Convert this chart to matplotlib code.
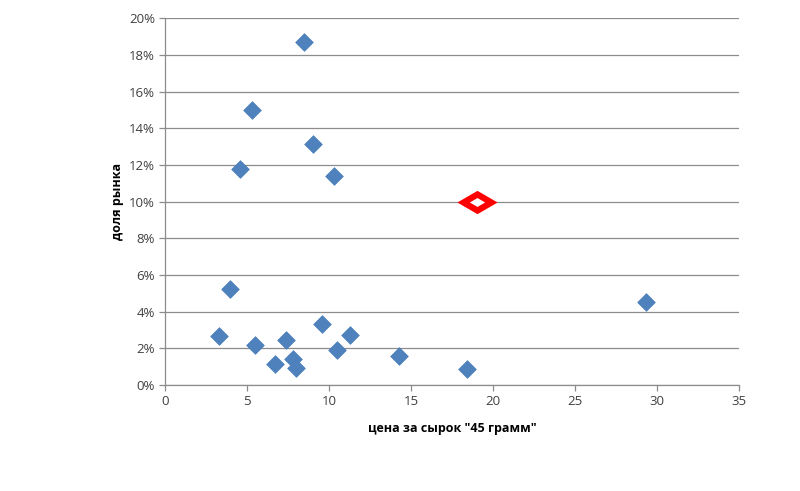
import matplotlib
matplotlib.use("Agg")
import matplotlib.pyplot as plt
from matplotlib.path import Path
from matplotlib.ticker import PercentFormatter

# цена за сырок / доля рынка
prices = [8.5, 5.3, 4.6, 9.0, 10.3, 4.0, 3.3, 5.5, 7.4, 6.7, 7.8, 8.0,
          9.6, 10.5, 11.3, 14.3, 18.4, 29.3]
shares = [18.7, 15.0, 11.75, 13.15, 11.4, 5.25, 2.65, 2.2, 2.45, 1.15, 1.4, 0.95,
          3.3, 1.9, 2.75, 1.6, 0.85, 4.55]
# "45 грамм"
target_price = [19.0]
target_share = [10.0]

plt.rcParams['font.family'] = ['Open Sans', 'DejaVu Sans']

fig = plt.figure(figsize=(8, 4.91), dpi=100)
ax = fig.add_axes([0.206, 0.216, 0.718, 0.747])

ax.scatter(prices, shares, marker='D', s=9 ** 2, color='#4F81BD',
           edgecolors='#4A7EBB', linewidths=0.5, zorder=3)

wide_diamond = Path([(-1, 0), (0, 0.58), (1, 0), (0, -0.58), (-1, 0)],
                    [Path.MOVETO, Path.LINETO, Path.LINETO, Path.LINETO, Path.CLOSEPOLY])
red = ax.scatter(target_price, target_share, marker=wide_diamond, s=20 ** 2,
                 facecolors='white', edgecolors='#FF0000', linewidths=4.5, zorder=4)
red.set_joinstyle('miter')

ax.set_xlim(0, 35)
ax.set_ylim(0, 20)
ax.set_xticks(range(0, 36, 5))
ax.set_yticks(range(0, 21, 2))
ax.yaxis.set_major_formatter(PercentFormatter(decimals=0))

ax.grid(axis='y', color='#8C8C8C', linewidth=0.9)
ax.set_axisbelow(True)
for side in ['top', 'right']:
    ax.spines[side].set_visible(False)
for side in ['left', 'bottom']:
    ax.spines[side].set_color('#8C8C8C')
    ax.spines[side].set_linewidth(0.9)
ax.tick_params(direction='out', length=4, width=0.9, color='#8C8C8C',
               labelsize=9.5, labelcolor='#404040', pad=3)

ax.set_xlabel('цена за сырок "45 грамм"', fontsize=9, fontweight='bold', labelpad=10)
ax.set_ylabel('доля рынка', fontsize=9, fontweight='bold', labelpad=4)

fig.savefig('out.png', dpi=100)
